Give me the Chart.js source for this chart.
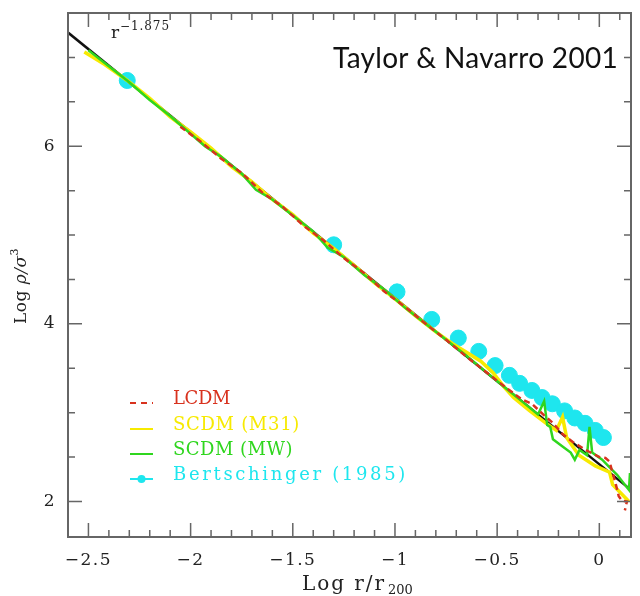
<!DOCTYPE html>
<html>
<head>
<meta charset="utf-8">
<script src="https://cdn.jsdelivr.net/npm/chart.js@4.4.1/dist/chart.umd.min.js"></script>
<style>
  html, body { margin: 0; padding: 0; background: #fff; }
  #wrap { width: 640px; height: 596px; }
</style>
</head>
<body>
<div id="wrap"><canvas id="profileChart"></canvas></div>
<script>
// Axis ticks (log r/r200 and log rho/sigma^3)
const xMajor = [-2.5, -2, -1.5, -1, -0.5, 0];
const xMinor = [-2.6, -2.4, -2.3, -2.2, -2.1, -1.9, -1.8, -1.7, -1.6, -1.4, -1.3, -1.2, -1.1,
                -0.9, -0.8, -0.7, -0.6, -0.4, -0.3, -0.2, -0.1, 0.1];
const yMajor = [2, 4, 6];
const yMinor = [2.5, 3, 3.5, 4.5, 5, 5.5, 6.5, 7];

// Power law r^-1.875 reference line
const powerX = [-2.6, 0.16];
const powerY = [7.28, 2.12];

// LCDM (dashed red)
const lcdmX = [-2.05, -1.95, -1.85, -1.75, -1.65, -1.55, -1.45, -1.35, -1.25, -1.15, -1.05, -0.95,
               -0.85, -0.75, -0.65, -0.55, -0.45, -0.38, -0.33, -0.27, -0.23, -0.18, -0.13, -0.08,
               -0.05, 0.0, 0.03, 0.05, 0.065, 0.08, 0.095, 0.11, 0.135, 0.125];
const lcdmY = [6.22, 6.05, 5.86, 5.70, 5.48, 5.32, 5.11, 4.94, 4.74, 4.57, 4.36, 4.19,
               4.00, 3.82, 3.63, 3.45, 3.27, 3.15, 3.10, 2.97, 2.89, 2.76, 2.67, 2.60,
               2.56, 2.50, 2.49, 2.45, 2.32, 2.20, 2.06, 2.01, 2.00, 1.90];

// SCDM (M31) yellow
const m31X = [-2.52, -2.42, -2.31, -2.2, -2.1, -2.0, -1.9, -1.8, -1.7, -1.6, -1.5, -1.4, -1.3,
              -1.2, -1.1, -1.0, -0.9, -0.8, -0.72, -0.65, -0.58, -0.52, -0.47, -0.42, -0.34,
              -0.26, -0.21, -0.18, -0.16, -0.13, -0.10, -0.02, 0.05, 0.065, 0.145];
const m31Y = [7.06, 6.92, 6.74, 6.54, 6.33, 6.16, 5.98, 5.77, 5.60, 5.40, 5.23, 5.02, 4.85,
              4.66, 4.46, 4.28, 4.09, 3.91, 3.78, 3.68, 3.58, 3.45, 3.30, 3.17, 3.02,
              2.88, 2.80, 2.95, 2.72, 2.62, 2.52, 2.40, 2.33, 2.19, 2.00];

// SCDM (MW) green
const mwX = [-2.5, -2.4, -2.3, -2.2, -2.1, -2.0, -1.93, -1.85, -1.75, -1.68, -1.6, -1.5, -1.4,
             -1.33, -1.25, -1.15, -1.05, -0.95, -0.85, -0.75, -0.65, -0.55, -0.45, -0.38, -0.30,
             -0.27, -0.255, -0.24, -0.227, -0.18, -0.14, -0.12, -0.097, -0.06, -0.048, -0.035,
             0.014, 0.048, 0.087, 0.145, 0.15];
const mwY = [7.08, 6.90, 6.72, 6.52, 6.34, 6.14, 6.00, 5.88, 5.69, 5.51, 5.40, 5.22, 5.04,
             4.86, 4.75, 4.55, 4.38, 4.18, 4.00, 3.82, 3.64, 3.45, 3.26, 3.13, 2.98,
             3.13, 2.86, 2.84, 2.70, 2.62, 2.55, 2.47, 2.58, 2.52, 2.84, 2.55,
             2.47, 2.39, 2.30, 2.13, 2.32];

// Bertschinger (1985) similarity solution
const bertX = [-2.31, -1.30, -0.99, -0.82, -0.69, -0.59, -0.51, -0.44, -0.39, -0.33, -0.28,
               -0.23, -0.17, -0.12, -0.07, -0.02, 0.02];
const bertY = [6.74, 4.89, 4.36, 4.05, 3.84, 3.69, 3.53, 3.42, 3.33, 3.25, 3.17,
               3.10, 3.02, 2.94, 2.88, 2.80, 2.72];

const RED = '#d8321e';
const YELLOW = '#f7ea00';
const GREEN = '#2fd61e';
const CYAN = '#1ee6ee';
const AXIS = '#666';
const SERIF = '"DejaVu Serif", "Liberation Serif", serif';

const pts = (xs, ys) => xs.map((x, i) => ({ x: x, y: ys[i] }));
const fmt = v => (v < 0 ? '\u2212' + Math.abs(v) : String(v));

// draw text stretched (by letter spacing) to a given width, like the wide plot font
function fitText(ctx, text, x, y, width) {
    ctx.letterSpacing = '0px';
    const natural = ctx.measureText(text).width;
    ctx.letterSpacing = ((width - natural) / text.length) + 'px';
    ctx.fillText(text, x, y);
    ctx.letterSpacing = '0px';
}

// wider tick labels
const tickSpacing = {
    id: 'tickSpacing',
    beforeDraw(chart) { chart.ctx.letterSpacing = '1.5px'; }
};

// frame, inward ticks, titles and legend
const decorations = {
    id: 'decorations',
    afterDatasetsDraw(chart) {
        const { ctx, chartArea: a, scales: { x, y } } = chart;
        ctx.save();
        ctx.letterSpacing = '0px';
        ctx.strokeStyle = AXIS;
        ctx.lineWidth = 2;
        ctx.strokeRect(a.left, a.top, a.right - a.left, a.bottom - a.top);

        const tick = (vals, len) => {
            vals.forEach(v => {
                const px = x.getPixelForValue(v);
                if (px < a.left || px > a.right) return;
                ctx.beginPath();
                ctx.moveTo(px, a.bottom); ctx.lineTo(px, a.bottom - len);
                ctx.moveTo(px, a.top); ctx.lineTo(px, a.top + len);
                ctx.stroke();
            });
        };
        const ytick = (vals, len) => {
            vals.forEach(v => {
                const py = y.getPixelForValue(v);
                ctx.beginPath();
                ctx.moveTo(a.left, py); ctx.lineTo(a.left + len, py);
                ctx.moveTo(a.right, py); ctx.lineTo(a.right - len, py);
                ctx.stroke();
            });
        };
        ctx.lineWidth = 1.5;
        tick(xMajor, 14);
        tick(xMinor, 7);
        ytick(yMajor, 14);
        ytick(yMinor, 7);

        ctx.fillStyle = '#222';
        ctx.textBaseline = 'alphabetic';
        ctx.textAlign = 'left';

        // x axis title
        ctx.font = '20px ' + SERIF;
        fitText(ctx, 'Log r/r', 302, 590, 84);
        ctx.font = '13px ' + SERIF;
        ctx.fillText('200', 388, 594);

        // y axis title (rotated)
        ctx.save();
        ctx.translate(26, 286);
        ctx.rotate(-Math.PI / 2);
        ctx.letterSpacing = '0.5px';
        ctx.font = '17px ' + SERIF;
        const w1 = ctx.measureText('Log ').width;
        ctx.font = 'italic 17px ' + SERIF;
        const w2 = ctx.measureText('\u03c1/\u03c3').width;
        ctx.font = '11px ' + SERIF;
        const w3 = ctx.measureText('3').width;
        const sx = -(w1 + w2 + w3) / 2;
        ctx.font = '17px ' + SERIF;
        ctx.fillText('Log ', sx, 0);
        ctx.font = 'italic 17px ' + SERIF;
        ctx.fillText('\u03c1/\u03c3', sx + w1, 0);
        ctx.font = '11px ' + SERIF;
        ctx.fillText('3', sx + w1 + w2, -8);
        ctx.restore();

        // power-law label
        ctx.font = '17px ' + SERIF;
        ctx.fillText('r', 111, 38);
        ctx.font = '12px ' + SERIF;
        fitText(ctx, '\u22121.875', 120, 30, 50);

        // panel title
        ctx.fillStyle = '#111';
        ctx.font = '28px Lato, "Open Sans", sans-serif';
        fitText(ctx, 'Taylor & Navarro 2001', 333, 68, 285);

        // legend
        const legend = [
            { text: 'LCDM', color: RED, dash: [6, 5], base: 404, width: 57 },
            { text: 'SCDM (M31)', color: YELLOW, dash: [], base: 430, width: 127 },
            { text: 'SCDM (MW)', color: GREEN, dash: [], base: 455, width: 120 },
            { text: 'Bertschinger (1985)', color: CYAN, dash: [], base: 480, width: 235, dot: true }
        ];
        ctx.font = '18px ' + SERIF;
        legend.forEach(e => {
            ctx.strokeStyle = e.color;
            ctx.lineWidth = 2;
            ctx.setLineDash(e.dash);
            ctx.beginPath();
            ctx.moveTo(130, e.base - 1);
            ctx.lineTo(153, e.base - 1);
            ctx.stroke();
            ctx.setLineDash([]);
            ctx.fillStyle = e.color;
            if (e.dot) {
                ctx.beginPath();
                ctx.arc(141.5, e.base - 1, 4, 0, Math.PI * 2);
                ctx.fill();
            }
            fitText(ctx, e.text, 173, e.base, e.width);
        });
        ctx.restore();
    }
};

const ctx = document.getElementById('profileChart').getContext('2d');

// order: higher numbers are drawn underneath
const chart = new Chart(ctx, {
    type: 'scatter',
    data: {
        datasets: [
            {
                label: 'r^-1.875',
                data: pts(powerX, powerY),
                showLine: true,
                borderColor: '#111',
                borderWidth: 2.5,
                pointRadius: 0,
                order: 4
            },
            {
                label: 'LCDM',
                data: pts(lcdmX, lcdmY),
                showLine: true,
                borderColor: RED,
                borderWidth: 2.5,
                borderDash: [6, 4],
                pointRadius: 0,
                order: 1
            },
            {
                label: 'SCDM (M31)',
                data: pts(m31X, m31Y),
                showLine: true,
                borderColor: YELLOW,
                borderWidth: 3.5,
                pointRadius: 0,
                order: 3
            },
            {
                label: 'SCDM (MW)',
                data: pts(mwX, mwY),
                showLine: true,
                borderColor: GREEN,
                borderWidth: 2.5,
                pointRadius: 0,
                order: 2
            },
            {
                label: 'Bertschinger (1985)',
                data: pts(bertX, bertY),
                showLine: false,
                backgroundColor: CYAN,
                borderColor: CYAN,
                pointRadius: 8,
                order: 5
            }
        ]
    },
    options: {
        responsive: true,
        maintainAspectRatio: false,
        animation: false,
        layout: { padding: { top: 13, right: 1, bottom: 0, left: 0 } },
        plugins: {
            legend: { display: false },
            tooltip: { enabled: false }
        },
        scales: {
            x: {
                type: 'linear',
                min: -2.6,
                max: 0.155,
                afterFit: s => { s.height = 59; s.paddingLeft = 0; s.paddingRight = 0; },
                afterBuildTicks: s => { s.ticks = xMajor.map(v => ({ value: v })); },
                grid: { display: false, drawTicks: false },
                border: { display: false },
                ticks: {
                    color: '#222',
                    padding: 13,
                    maxRotation: 0,
                    autoSkip: false,
                    font: { family: SERIF, size: 17 },
                    callback: v => fmt(v)
                }
            },
            y: {
                type: 'linear',
                min: 1.6,
                max: 7.5,
                afterFit: s => { s.width = 68; s.paddingTop = 0; s.paddingBottom = 0; },
                afterBuildTicks: s => { s.ticks = yMajor.map(v => ({ value: v })); },
                grid: { display: false, drawTicks: false },
                border: { display: false },
                ticks: {
                    color: '#222',
                    padding: 12,
                    autoSkip: false,
                    font: { family: SERIF, size: 17 },
                    callback: v => fmt(v)
                }
            }
        }
    },
    plugins: [tickSpacing, decorations]
});
</script>
</body>
</html>
